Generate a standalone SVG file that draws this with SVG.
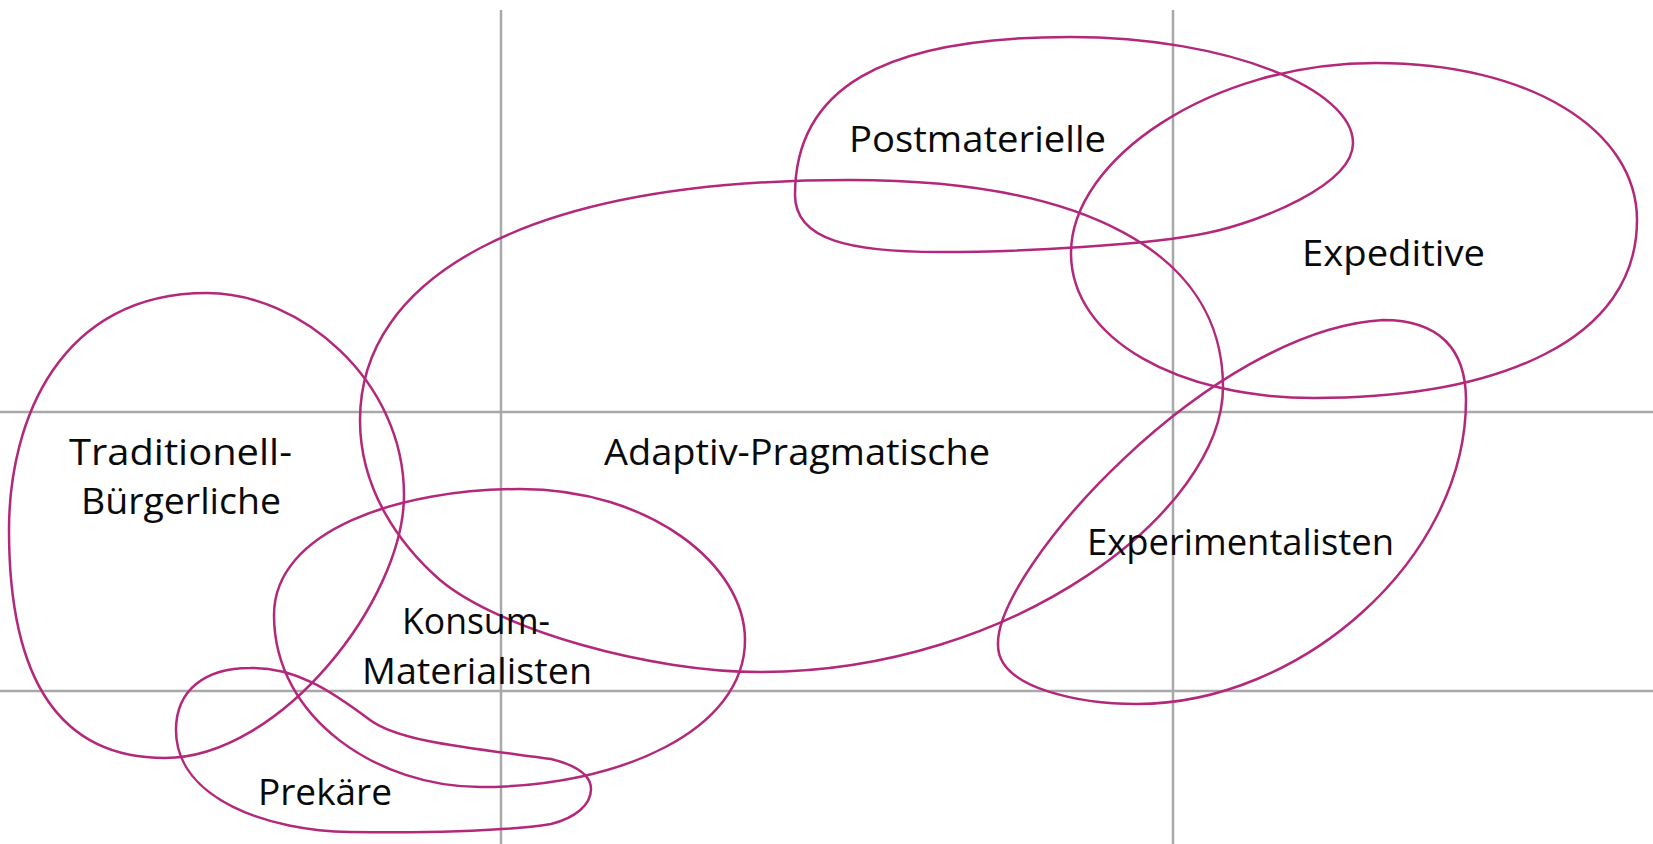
<svg xmlns="http://www.w3.org/2000/svg" width="1653" height="844" viewBox="0 0 1653 844">
  <style>
    .grid { stroke: #a8a8a8; stroke-width: 2.5; fill: none; }
    .milieu { stroke: #b3287a; stroke-width: 2.5; fill: none; stroke-linejoin: round; }
    .label { font-family: "Open Sans", "Liberation Sans", sans-serif; font-size: 37px; fill: #0a0a0a; }
  </style>
  <rect width="1653" height="844" fill="#ffffff"/>

  <!-- axis grid -->
  <g id="grid">
    <line class="grid" x1="501" y1="10" x2="501" y2="844"/>
    <line class="grid" x1="1173" y1="10" x2="1173" y2="844"/>
    <line class="grid" x1="0" y1="412" x2="1653" y2="412"/>
    <line class="grid" x1="0" y1="691" x2="1653" y2="691"/>
  </g>

  <!-- milieu outlines -->
  <g id="traditionell-buergerliche">
    <path class="milieu" d="M207,293 C300,293 404,380 404,495 C404,600 280,758 165,758 C60,758 9,680 9,530 C9,420 60,293 207,293 Z"/>
  </g>
  <g id="adaptiv-pragmatische">
    <path class="milieu" d="M360,420 C360,280 520,180 850,180 C1080,180 1223,250 1223,387 C1223,510 1015,672 760,672 C650,672 500,630 440,580 C400,545 360,490 360,420 Z"/>
  </g>
  <g id="postmaterielle">
    <path class="milieu" d="M1070,37 C1230,37 1353,90 1353,143 C1353,185 1260,222 1207,233 C1150,245 1020,252 940,252 C850,252 795,240 795,195 C795,90 880,37 1070,37 Z"/>
  </g>
  <g id="expeditive">
    <path class="milieu" d="M1376,63 C1530,63 1637,130 1637,220 C1637,340 1500,398 1313,398 C1180,398 1071,340 1071,253 C1071,160 1210,63 1376,63 Z"/>
  </g>
  <g id="experimentalisten">
    <path class="milieu" d="M1383,320 C1440,320 1466,350 1466,400 C1466,560 1300,704 1137,704 C1085,704 998,690 998,645 C995,570 1210,330 1383,320 Z"/>
  </g>
  <g id="konsum-materialisten">
    <path class="milieu" d="M274,615 C274,530 400,489 520,489 C650,489 745,565 745,640 C745,730 620,787 480,787 C380,787 274,720 274,615 Z"/>
  </g>
  <g id="prekaere">
    <path class="milieu" d="M250,668 C295,667 330,690 370,720 C400,742 470,748 551,759 C575,765 591,775 591,789 C591,805 575,818 551,824 C500,832 420,833 350,832 C270,831 176,800 176,730 C176,690 205,668 250,668 Z"/>
  </g>

  <!-- labels -->
  <g id="labels">
    <text class="label" x="849" y="152" textLength="257" lengthAdjust="spacingAndGlyphs">Postmaterielle</text>
    <text class="label" x="1302" y="266" textLength="183" lengthAdjust="spacingAndGlyphs">Expeditive</text>
    <text class="label" x="604" y="465" textLength="386" lengthAdjust="spacingAndGlyphs">Adaptiv-Pragmatische</text>
    <text class="label" x="69" y="465" textLength="223" lengthAdjust="spacingAndGlyphs">Traditionell-</text>
    <text class="label" x="81" y="514" textLength="200" lengthAdjust="spacingAndGlyphs">Bürgerliche</text>
    <text class="label" x="402" y="634" textLength="148" lengthAdjust="spacingAndGlyphs">Konsum-</text>
    <text class="label" x="362" y="684" textLength="230" lengthAdjust="spacingAndGlyphs">Materialisten</text>
    <text class="label" x="1087" y="555" textLength="307" lengthAdjust="spacingAndGlyphs">Experimentalisten</text>
    <text class="label" x="258" y="805" textLength="134" lengthAdjust="spacingAndGlyphs">Prekäre</text>
  </g>
</svg>
